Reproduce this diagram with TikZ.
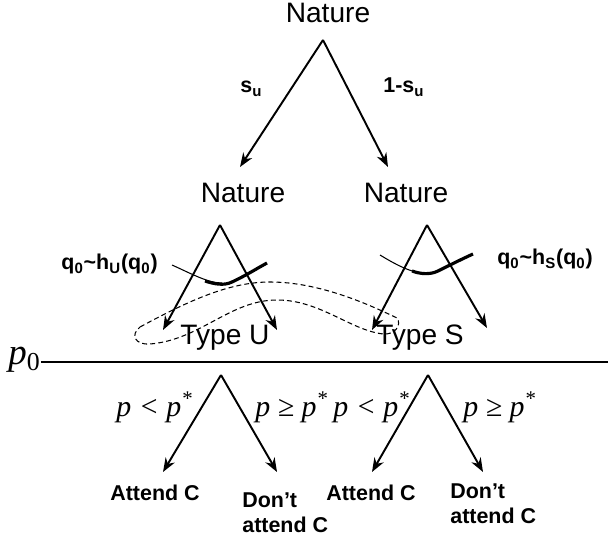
\documentclass[tikz,border=0pt]{standalone}
\usepackage{fontspec}
\setmainfont{Liberation Sans}
\newfontfamily\timesfont{Liberation Serif}
\usetikzlibrary{arrows.meta}

\begin{document}
\begin{tikzpicture}[
  x=0.02cm, y=-0.02cm,
  chance/.style={inner sep=0pt, anchor=base, font=\fontsize{16}{19}\selectfont},
  outcome/.style={inner sep=0pt, align=left, font=\bfseries\fontsize{12.2}{14.7}\selectfont},
  cutoff/.style={inner sep=0pt, font=\timesfont\fontsize{17}{20}\selectfont},
  arr/.style={-{Stealth[length=8pt, width=6pt]}, line width=1.1pt},
  belief/.style={line width=0.6pt},
  beliefbold/.style={line width=1.8pt},
  infoset/.style={line width=0.6pt, dash pattern=on 2.8pt off 1.8pt}
]
\useasboundingbox (0,0) rectangle (608,543);

% nature picks the type
\node[chance] (nat) at (328,23) {Nature};
\coordinate (natA) at (323,40);
\coordinate (natL) at (240,167);
\coordinate (natR) at (388,167);
\draw[arr] (natA) -- (natL);
\draw[arr] (natA) -- (natR);
\node[outcome, anchor=base west] (su) at (240,93) {s\textsubscript{u}};
\node[outcome, anchor=base west] (nsu) at (383,93) {1-s\textsubscript{u}};

% nature draws q0
\node[chance] (natU) at (243,203) {Nature};
\node[chance] (natS) at (406,203) {Nature};
\coordinate (uA) at (220,225);
\coordinate (uL) at (163,330);
\coordinate (uR) at (277,330);
\coordinate (sA) at (427,225);
\coordinate (sL) at (372,330);
\coordinate (sR) at (487,328);
\draw[arr] (uA) -- (uL);
\draw[arr] (uA) -- (uR);
\draw[arr] (sA) -- (sL);
\draw[arr] (sA) -- (sR);

% densities
\draw[belief] (172,265) .. controls (192,274) and (208,283) .. (222,283);
\draw[beliefbold] (205,281) .. controls (214,284) and (224,286) .. (232,282)
  .. controls (245,276) and (256,269) .. (267,263);
\draw[belief] (380,255) .. controls (398,266) and (414,274) .. (427,273);
\draw[beliefbold] (412,271) .. controls (420,274) and (430,275) .. (438,271)
  .. controls (450,265) and (462,259) .. (473,254);
\node[outcome, anchor=base east] (hU) at (158,270)
  {q\textsubscript{0}\textasciitilde h\textsubscript{U}(q\textsubscript{0})};
\node[outcome, anchor=base west] (hS) at (497,265)
  {q\textsubscript{0}\textasciitilde h\textsubscript{S}(q\textsubscript{0})};

% types and their information set
\node[chance] (typeU) at (225,345) {Type U};
\node[chance] (typeS) at (420,345) {Type S};
\draw[infoset] (140,327) .. controls (190,300) and (230,282) .. (270,282)
  .. controls (320,282) and (370,305) .. (397,318)
  .. controls (402,325) and (395,335) .. (383,334)
  .. controls (350,330) and (320,300) .. (277,300)
  .. controls (230,300) and (200,340) .. (150,344)
  .. controls (135,345) and (130,335) .. (140,327) -- cycle;

% price line
\node[inner sep=0pt, anchor=base west, font=\timesfont\fontsize{21}{25}\selectfont]
  (p0) at (8,365) {\itshape p\textsubscript{\upshape 0}};
\coordinate (lineend) at (608,362);
\draw[line width=1.2pt] (p0.east |- lineend) -- (lineend);

% consumer decisions
\coordinate (lA) at (221,375);
\coordinate (rA) at (428,375);
\coordinate (lL) at (163,472);
\coordinate (lR) at (277,472);
\coordinate (rL) at (372,472);
\coordinate (rR) at (483,472);
\draw[arr] (lA) -- (lL);
\draw[arr] (lA) -- (lR);
\draw[arr] (rA) -- (rL);
\draw[arr] (rA) -- (rR);
\node[cutoff, anchor=base east] (lowU) at (193,417) {\itshape p < p\textsuperscript{*}};
\node[cutoff, anchor=base west] (highU) at (255,417) {\itshape p ≥ p\textsuperscript{*}};
\node[cutoff, anchor=base east] (lowS) at (410,417) {\itshape p < p\textsuperscript{*}};
\node[cutoff, anchor=base west] (highS) at (463,417) {\itshape p ≥ p\textsuperscript{*}};

\node[outcome, anchor=base] (attU) at (155,500) {Attend C};
\node[outcome, anchor=north west] (dontU) at (242,492) {Don’t\\attend C};
\node[outcome, anchor=base] (attS) at (371,500) {Attend C};
\node[outcome, anchor=north west] (dontS) at (450,483) {Don’t\\attend C};

\end{tikzpicture}
\end{document}
